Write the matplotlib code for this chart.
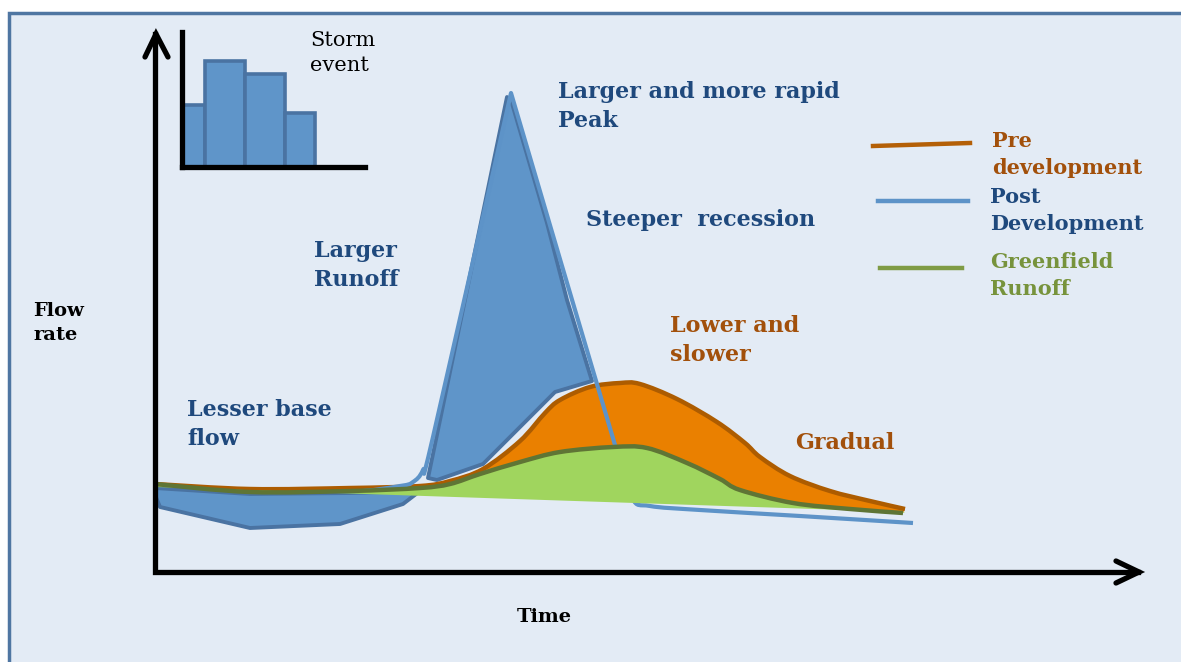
#!/usr/bin/env python3
"""Hydrograph sketch: pre / post development runoff after a storm event."""

import matplotlib.pyplot as plt
from matplotlib.patches import PathPatch, Rectangle
from matplotlib.path import Path

OUTPUT = "out.png"

# picture-space readings (x to the right, y downwards, as measured on the sketch)
PRE_X = [155, 250, 350, 420, 450, 483, 520, 545, 560, 590, 620, 640, 677, 717, 745, 760, 790, 830, 870, 905]
PRE_Y = [484, 489, 488, 486, 481, 469, 441, 413, 400, 387, 383, 384, 399, 422, 443, 457, 476, 491, 501, 509]

GREEN_X = [155, 250, 350, 420, 450, 480, 520, 560, 613, 647, 687, 720, 740, 793, 850, 903]
GREEN_Y = [484, 492, 491, 488, 484, 474, 462, 452, 447, 448, 463, 479, 490, 503, 509, 513]
GREEN_BASE_X = [155, 905]
GREEN_BASE_Y = [487, 512]

POST_X = [155, 250, 350, 400, 413, 423, 433, 511, 615, 632, 650, 700, 800, 913]
POST_Y = [487, 494, 492, 486, 482, 470, 437, 93, 445, 498, 506, 510, 516, 523]
POST_CORNERS = {7}

PEAK_X = [428, 507, 511, 547, 567, 592, 555, 483, 437]
PEAK_Y = [478, 97, 100, 223, 300, 381, 392, 464, 480]

BASEFLOW_X = [155, 250, 350, 420, 403, 340, 250, 160, 155]
BASEFLOW_Y = [488, 494, 493, 491, 504, 524, 528, 507, 495]

STORM_START = [0, 1, 2, 3]
STORM_WIDTH = [1, 1, 1, 0.75]
STORM_DEPTH = [62, 106, 93, 54]

BG = "#e3ebf5"
BLUE_FILL = "#5f95c9"
BLUE_EDGE = "#4a73a2"
BLUE_LINE = "#5d93c8"
ORANGE_FILL = "#ea8000"
ORANGE_EDGE = "#ad5c00"
GREEN_FILL = "#a0d55e"
GREEN_EDGE = "#5f7535"
TXT_BLUE = "#1f497d"
TXT_ORANGE = "#a2500b"
TXT_GREEN = "#77933c"
SERIF = "DejaVu Serif"


def smooth(xs, ys, corners=()):
    """Catmull-Rom style cubic segments through the points (sharp at corners)."""
    pts = list(zip(xs, ys))
    n = len(pts)
    verts, codes = [pts[0]], [Path.MOVETO]
    for i in range(n - 1):
        p1, p2 = pts[i], pts[i + 1]
        p0 = pts[i - 1] if i > 0 and i not in corners else p1
        p3 = pts[i + 2] if i + 2 < n and (i + 1) not in corners else p2
        c1 = (p1[0] + (p2[0] - p0[0]) / 6, p1[1] + (p2[1] - p0[1]) / 6)
        c2 = (p2[0] - (p3[0] - p1[0]) / 6, p2[1] - (p3[1] - p1[1]) / 6)
        verts += [c1, c2, p2]
        codes += [Path.CURVE4] * 3
    return verts, codes


def region(*pieces):
    verts, codes = [], []
    for v, c in pieces:
        if verts:
            c = [Path.LINETO] + c[1:]
        verts += v
        codes += c
    verts.append(verts[0])
    codes.append(Path.CLOSEPOLY)
    return Path(verts, codes)


def label(ax, x, y, text, color, size=16, bold=True):
    ax.text(x, y, text, ha="left", va="top", fontsize=size, color=color,
            fontweight="bold" if bold else "normal", family=SERIF,
            linespacing=1.42, zorder=10)


def main():
    fig = plt.figure(figsize=(11.81, 6.62), dpi=100, facecolor="white")
    ax = fig.add_axes([0, 0, 1, 1])
    ax.set_xlim(0, 1181)
    ax.set_ylim(662, 0)
    ax.set_axis_off()

    ax.add_patch(Rectangle((9, 13), 1200, 700, facecolor=BG, edgecolor="#4f76a2",
                           linewidth=2.5, zorder=0))

    # axes arrows
    ax.plot([155, 155, 1138], [34, 572, 572], color="black", lw=3.8,
            solid_joinstyle="miter", zorder=9)
    ax.plot([145, 156, 168], [57, 34, 57], color="black", lw=3.8,
            solid_capstyle="round", solid_joinstyle="miter", zorder=9)
    ax.plot([1116, 1139, 1116], [561, 572, 583], color="black", lw=3.8,
            solid_capstyle="round", solid_joinstyle="miter", zorder=9)

    # hydrograph
    pre = smooth(PRE_X, PRE_Y)
    green = smooth(GREEN_X, GREEN_Y)
    green_back = smooth(GREEN_X[::-1], GREEN_Y[::-1])
    base_back = (list(zip(GREEN_BASE_X[::-1], GREEN_BASE_Y[::-1])), [Path.MOVETO, Path.LINETO])

    ax.add_patch(PathPatch(region(pre, green_back), facecolor=ORANGE_FILL, lw=0, zorder=1))
    ax.fill(PEAK_X, PEAK_Y, facecolor=BLUE_FILL, edgecolor=BLUE_EDGE, lw=2.8,
            joinstyle="round", zorder=2)
    ax.add_patch(PathPatch(Path(*pre), fill=False, edgecolor=ORANGE_EDGE, lw=3.2,
                           joinstyle="round", zorder=3))
    ax.add_patch(PathPatch(Path(*smooth(POST_X, POST_Y, POST_CORNERS)), fill=False,
                           edgecolor=BLUE_LINE, lw=3.0, joinstyle="round", zorder=4))
    ax.fill(BASEFLOW_X, BASEFLOW_Y, facecolor=BLUE_FILL, edgecolor=BLUE_EDGE, lw=2.8,
            joinstyle="round", zorder=4.5)
    ax.add_patch(PathPatch(region(green, base_back), facecolor=GREEN_FILL, lw=0, zorder=5))
    ax.add_patch(PathPatch(Path(*green), fill=False, edgecolor=GREEN_EDGE, lw=3.2,
                           joinstyle="round", zorder=6))

    # legend swatches
    ax.plot([873, 970], [146, 143], color="#b45f06", lw=3.2, zorder=6)
    ax.plot([878, 968], [201, 201], color=BLUE_LINE, lw=3.2, zorder=6)
    ax.plot([880, 962], [268, 268], color="#7f9b45", lw=3.2, zorder=6)
    label(ax, 992, 131, "Pre\ndevelopment", TXT_ORANGE, size=15)
    label(ax, 990, 187, "Post\nDevelopment", TXT_BLUE, size=15)
    label(ax, 990, 252, "Greenfield\nRunoff", TXT_GREEN, size=15)

    # annotations
    label(ax, 558, 81, "Larger and more rapid\nPeak", TXT_BLUE)
    label(ax, 586, 209, "Steeper  recession", TXT_BLUE)
    label(ax, 314, 240, "Larger\nRunoff", TXT_BLUE)
    label(ax, 670, 315, "Lower and\nslower", TXT_ORANGE)
    label(ax, 795, 432, "Gradual", TXT_ORANGE)
    label(ax, 187, 399, "Lesser base\nflow", TXT_BLUE)
    label(ax, 33, 302, "Flow\nrate", "black", size=14)
    label(ax, 517, 608, "Time", "black", size=14)
    label(ax, 310, 31, "Storm\nevent", "black", size=15, bold=False)

    # storm event hyetograph
    hx = fig.add_axes([182 / 1181, 1 - 167 / 662, 183 / 1181, 135 / 662])
    hx.patch.set_visible(False)
    hx.bar(STORM_START, STORM_DEPTH, width=STORM_WIDTH, align="edge",
           color=BLUE_FILL, edgecolor=BLUE_EDGE, linewidth=2.6, zorder=1)
    hx.set_xlim(0.42, 0.42 + 183 / 40)
    hx.set_ylim(0, 135)
    for side in ("top", "right"):
        hx.spines[side].set_visible(False)
    for side in ("left", "bottom"):
        hx.spines[side].set_linewidth(3.8)
        hx.spines[side].set_color("black")
        hx.spines[side].set_zorder(3)
    hx.set_xticks([])
    hx.set_yticks([])

    fig.savefig(OUTPUT, dpi=100, facecolor=fig.get_facecolor())
    plt.close(fig)


if __name__ == "__main__":
    main()
